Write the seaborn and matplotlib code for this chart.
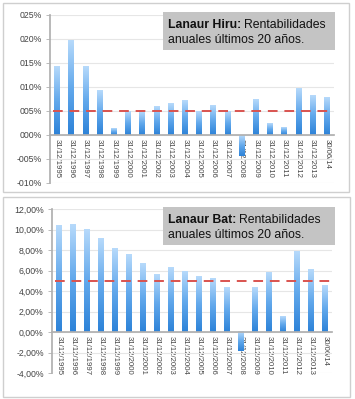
import numpy as np
import pandas as pd
import matplotlib
matplotlib.use('Agg')
import matplotlib.pyplot as plt
import seaborn as sns
from matplotlib.patches import Rectangle
from matplotlib.colors import LinearSegmentedColormap

# Datos (rentabilidad anual, %)
fechas = ['31/12/1995', '31/12/1996', '31/12/1997', '31/12/1998', '31/12/1999',
          '31/12/2000', '31/12/2001', '31/12/2002', '31/12/2003', '31/12/2004',
          '31/12/2005', '31/12/2006', '31/12/2007', '31/12/2008', '31/12/2009',
          '31/12/2010', '31/12/2011', '31/12/2012', '31/12/2013', '30/06/14']
hiru = [14.3, 19.6, 14.3, 9.3, 1.4, 4.9, 4.9, 6.0, 6.5, 7.2,
        4.9, 6.2, 4.8, -4.3, 7.3, 2.5, 1.6, 9.7, 8.3, 7.8]
bat = [10.4, 10.5, 10.0, 9.1, 8.1, 7.6, 6.7, 5.6, 6.3, 5.9,
       5.4, 5.2, 4.3, -1.9, 4.3, 5.8, 1.5, 7.9, 6.1, 4.5]
objetivo = 5.0

ticks_hiru = [-10, -5, 0, 5, 10, 15, 20, 25]
ticks_bat = [-4, -2, 0, 2, 4, 6, 8, 10, 12]

sns.set_theme(style='white')
plt.rcParams['font.family'] = ['Liberation Sans', 'DejaVu Sans']

W, H = 355, 399
fig = plt.figure(figsize=(W / 100, H / 100), dpi=100)
fig.patch.set_facecolor('white')

cmap = LinearSegmentedColormap.from_list('azul', ['#2c82d8', '#63a9ec', '#b7dafb'])
grad = np.linspace(0, 1, 256).reshape(-1, 1)


def fx(px):
    return px / W


def fy(py):
    return 1 - py / H


def panel(rect, valores, ticks, fmt, titulo_bold, caja_y):
    left, top, right, bottom = rect
    ax = fig.add_axes([fx(left), fy(bottom), fx(right - left), fy(top) - fy(bottom)])
    df = pd.DataFrame({'fecha': fechas, 'valor': valores})
    sns.barplot(data=df, x='fecha', y='valor', color='#4a96e2', width=0.42,
                ax=ax, zorder=2)
    # degradado en cada barra
    for p in ax.patches:
        x0, y0 = p.get_x(), p.get_y()
        w, h = p.get_width(), p.get_height()
        lo, hi = min(y0, y0 + h), max(y0, y0 + h)
        ax.imshow(grad, extent=[x0, x0 + w, lo, hi], origin='lower',
                  aspect='auto', cmap=cmap, zorder=2, interpolation='bilinear')
        p.set_facecolor('none')
        p.set_edgecolor('none')
    ax.axhline(objetivo, xmin=0.01, xmax=0.995, color='#d9534f', lw=1.4,
               ls=(0, (5, 3.5)), zorder=3)

    ax.set_xlim(-0.5, len(fechas) - 0.5)
    ax.set_ylim(ticks[0], ticks[-1])
    ax.set_yticks(ticks)
    ax.set_yticklabels([fmt(t) for t in ticks])
    ax.yaxis.grid(True, color='#e6e6e6', lw=0.8, zorder=0)
    ax.set_xlabel('')
    ax.set_ylabel('')
    ax.set_xticks(range(len(fechas)))
    ax.set_xticklabels(fechas)
    ax.set_xticks(np.arange(-0.5, len(fechas), 1), minor=True)
    for s in ['top', 'right']:
        ax.spines[s].set_visible(False)
    ax.spines['left'].set_color('#b0b0b0')
    ax.spines['bottom'].set_color('#b0b0b0')
    ax.spines['bottom'].set_position(('data', 0))
    ax.spines['bottom'].set_zorder(4)
    ax.tick_params(axis='x', which='major', length=0, labelsize=5.6,
                   labelrotation=-90, pad=3, labelcolor='#444444')
    ax.tick_params(axis='x', which='minor', length=3, width=0.6,
                   color='#b0b0b0', direction='out')
    ax.tick_params(axis='y', length=3, width=0.6, color='#b0b0b0',
                   labelsize=6.3, pad=3, labelcolor='#444444', left=True)
    ax.set_facecolor('none')

    # caja del titulo
    x0t, x1t = 163, 335
    fig.add_artist(Rectangle((fx(x0t), fy(caja_y + 38)), fx(x1t - x0t), 38 / H,
                             transform=fig.transFigure, facecolor='#c4c4c4',
                             edgecolor='none', zorder=5))
    t1 = fig.text(fx(168), fy(caja_y + 13), titulo_bold, weight='bold',
                  fontsize=8.8, color='#111111', va='center', zorder=6)
    fig.canvas.draw()
    bb = t1.get_window_extent().transformed(fig.transFigure.inverted())
    fig.text(bb.x1 + fx(3), fy(caja_y + 13), 'Rentabilidades', fontsize=8.8,
             color='#111111', va='center', zorder=6)
    fig.text(fx(168), fy(caja_y + 28), 'anuales últimos 20 años.', fontsize=8.8,
             color='#111111', va='center', zorder=6)
    return ax


def fmt_hiru(t):
    return ('-' if t < 0 else '') + f'{abs(t):03d}%'


def fmt_bat(t):
    return f'{t:.2f}%'.replace('.', ',')


# bordes de los paneles
fig.add_artist(Rectangle((fx(3), fy(192)), fx(346), 189 / H, transform=fig.transFigure,
                         facecolor='none', edgecolor='#cfcfcf', lw=1))
fig.add_artist(Rectangle((fx(3), fy(397)), fx(347), 200 / H, transform=fig.transFigure,
                         facecolor='none', edgecolor='#cfcfcf', lw=1))

panel((50, 15, 334, 183), hiru, ticks_hiru, fmt_hiru, 'Lanaur Hiru:', 12)
panel((52, 209, 332, 373), bat, ticks_bat, fmt_bat, 'Lanaur Bat:', 207)

fig.savefig('out.png', dpi=100)
